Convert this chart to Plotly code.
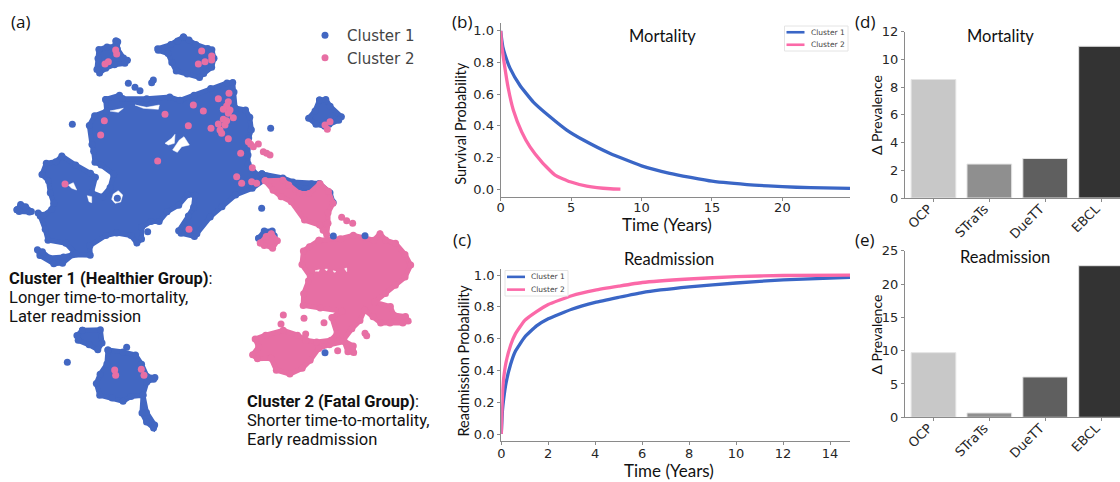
import math
import plotly.graph_objects as go

W, H = 1120, 482
BLUE, PINK = "#4267c2", "#e76fa4"
LBLUE, LPINK = "#3a66c6", "#fb69a8"

# ---------- (a) embedding: blob outlines and single points, embedding units ----------
blue_top_left = [(345,118),(358,122),(358,145),(375,170),(388,180),(378,195),(345,200),(320,210),(298,225),(285,210),(288,175),(292,145),(320,135),(340,135)]
blue_top_mid = [(550,105),(570,115),(590,128),(625,140),(640,145),(648,175),(640,205),(615,225),(600,238),(560,228),(525,218),(510,190),(500,165),(470,155),(468,143),(510,128),(530,118)]
blue_top_right = [(955,295),(980,293),(995,315),(1030,350),(1020,365),(990,378),(975,385),(945,378),(920,355),(940,330)]
blue_main = [(312,295),(360,280),(370,290),(440,290),(510,285),(540,295),(580,280),(630,260),(680,243),(702,243),(708,275),(710,320),(740,325),(755,350),(760,390),(752,415),(750,465),(750,490),(775,520),(805,525),(795,545),(760,570),(710,590),(670,625),(635,655),(595,705),(585,715),(540,705),(530,693),(560,645),(575,620),(580,590),(565,590),(540,620),(505,640),(480,670),(455,670),(430,685),(430,720),(410,735),(390,712),(350,705),(320,712),(275,740),(275,770),(220,770),(190,795),(160,797),(115,770),(108,745),(130,750),(150,768),(190,765),(222,760),(195,735),(140,725),(130,690),(115,650),(110,635),(130,640),(150,625),(155,610),(145,580),(140,545),(120,525),(135,485),(165,480),(185,462),(230,490),(275,515),(292,530),(280,575),(305,585),(325,560),(335,525),(300,500),(280,490),(275,455),(270,435),(262,375),(280,343),(315,330)]
blue_streak = [(45,630),(60,608),(80,615),(100,635),(90,642),(55,640)]
blue_low_a = [(245,985),(305,985),(312,1030),(295,1055),(265,1040),(230,1025),(225,1005)]
blue_low_b = [(320,1045),(370,1050),(410,1060),(430,1090),(445,1125),(470,1130),(465,1142),(445,1150),(435,1185),(445,1235),(470,1275),(462,1290),(435,1270),(420,1240),(425,1190),(395,1195),(370,1210),(335,1200),(295,1190),(283,1150),(295,1120),(315,1090)]
blue_band = [(780,520),(850,528),(880,540),(935,545),(960,545),(995,575),(1005,610),(985,620),(920,585)]
blue_island = [(770,715),(790,688),(820,688),(828,710),(780,725)]
blue_shapes = [blue_top_left, blue_top_mid, blue_top_right, blue_main, blue_streak, blue_low_a, blue_low_b, blue_band, blue_island]

gaps = [
    [(495,430),(515,415),(525,403),(523,430),(505,435)],
    [(518,450),(538,420),(552,410),(568,435),(545,440),(532,457)],
    [(205,555),(220,548),(230,570),(215,565)],
    [(262,587),(275,590),(275,608),(267,605)],
    [(335,598),(340,582),(355,572),(368,585),(362,606),(345,610)],
    [(330,333),(370,325),(355,337)],
    [(405,315),(440,322),(478,315),(475,328),(430,325)],
]

pink_streak = [(790,540),(850,535),(870,550),(900,575),(925,575),(960,545),(990,570),(1005,610),(990,640),(990,670),(982,710),(965,695),(955,680),(910,665),(870,610),(840,595),(815,575)]
pink_island = [(775,730),(795,705),(815,695),(838,722),(820,750),(790,742)]
pink_mass = [(955,715),(1020,710),(1060,700),(1120,715),(1140,695),(1160,715),(1190,725),(1220,760),(1238,795),(1220,835),(1190,860),(1160,885),(1130,905),(1175,915),(1185,940),(1220,945),(1230,965),(1210,975),(1170,975),(1140,975),(1115,955),(1095,935),(1085,965),(1060,990),(1035,1020),(1065,1035),(1065,1062),(1040,1060),(1030,1030),(990,1040),(960,1050),(935,1085),(910,1110),(870,1128),(825,1115),(810,1080),(770,1082),(752,1065),(770,1040),(760,1015),(795,1000),(850,985),(895,1000),(920,1015),(950,1020),(990,1015),(1005,1000),(990,950),(1020,935),(960,930),(905,920),(905,880),(920,840),(925,830),(900,795),(905,750),(925,735)]
pink_shapes = [pink_streak, pink_island, pink_mass]
pink_gaps = [[(945,813),(958,809),(956,814)],[(975,808),(982,807),(980,813)],[(1000,812),(1008,815),(1002,817)],[(1034,806),(1040,804),(1040,815)]]

blue_points = [(385,250),(405,262),(420,272),(460,240),(455,248),(217,373),(812,385),(785,625),(352,595),(202,1087),(380,1042),(443,695),(1000,708),(1095,707),(975,1058)]
pink_points = [(347,150),(350,162),(325,185),(315,192),(605,153),(635,168),(635,180),(615,185),(595,192),(687,280),(655,296),(580,315),(610,333),(685,305),(680,318),(670,328),(690,330),(685,340),(495,343),(700,353),(313,362),(565,377),(670,358),(655,372),(675,375),(680,362),(633,385),(660,390),(665,400),(302,405),(685,416),(745,425),(752,433),(775,432),(760,440),(790,455),(800,460),(810,465),(722,460),(473,483),(757,503),(710,530),(725,550),(755,545),(770,550),(195,552),(567,688),(990,365),(975,375),(982,388),(344,1110),(347,1126),(424,1108),(432,1126),(850,945),(843,972),(912,955),(972,968),(917,1002),(1095,1000),(1100,1007),(1013,1052),(1025,652),(1040,662),(1058,670)]

# ---------- (b) survival ----------
surv_t1 = [0,0.05,0.15,0.306,0.66,1.37,2.32,3.5,4.69,5.87,7.77,10,12,15,18,20,22,24.8]
surv_c1 = [1.0,0.96,0.9,0.85,0.765,0.655,0.55,0.457,0.373,0.31,0.225,0.147,0.1,0.05,0.025,0.015,0.009,0.005]
surv_t2 = [0,0.07,0.235,0.54,0.9,1.49,2.08,2.91,3.86,4.93,6.11,7.77,8.5]
surv_c2 = [1.0,0.91,0.804,0.636,0.499,0.362,0.267,0.172,0.088,0.046,0.019,0.002,0]

# ---------- (c) readmission ----------
read_t = [0,0.05,0.1,0.2,0.4,0.6,1,1.5,2,3,4,5,6,8,10,12,14.85]
read_c1 = [0,0.15,0.22,0.32,0.44,0.52,0.61,0.68,0.725,0.785,0.828,0.86,0.89,0.925,0.95,0.97,0.985]
read_c2 = [0,0.25,0.35,0.45,0.56,0.63,0.715,0.77,0.815,0.87,0.905,0.93,0.953,0.975,0.99,0.997,1.0]

# ---------- (d), (e) bars ----------
methods = ["OCP","STraTs","DueTT","EBCL"]
prev_mortality = [8.55,2.45,2.85,10.95]
prev_readmission = [9.7,0.65,6.05,22.75]
bar_colors = ["#c8c8c8","#8f8f8f","#5f5f5f","#333333"]

def inset(shape, d):
    """Pull an outline inwards so that the rounded stroke lands on the outline that was read."""
    n = len(shape)
    area = sum(shape[i][0]*shape[(i+1)%n][1] - shape[(i+1)%n][0]*shape[i][1] for i in range(n))
    sign = 1 if area > 0 else -1
    out = []
    for i in range(n):
        (x0,y0),(x1,y1),(x2,y2) = shape[i-1], shape[i], shape[(i+1)%n]
        l1 = math.hypot(x1-x0,y1-y0) or 1; l2 = math.hypot(x2-x1,y2-y1) or 1
        nx = -(y1-y0)/l1 - (y2-y1)/l2; ny = (x1-x0)/l1 + (x2-x1)/l2
        m = math.hypot(nx,ny) or 1
        out.append((x1 + sign*d*nx/m, y1 + sign*d*ny/m))
    return out

def xs(shapes):
    out = []
    for s in shapes:
        out += [p[0] for p in s] + [s[0][0], None]
    return out
def ys(shapes):
    out = []
    for s in shapes:
        out += [p[1] for p in s] + [s[0][1], None]
    return out

fig = go.Figure()
def blob(shapes, color, size=7, line=5):
    shapes = [inset(s, 6) for s in shapes]
    fig.add_trace(go.Scatter(x=xs(shapes), y=ys(shapes), mode="lines+markers", fill="toself", fillcolor=color,
        line=dict(color=color, width=line), marker=dict(color=color, size=size), showlegend=False, hoverinfo="skip",
        connectgaps=False, xaxis="x", yaxis="y"))
def hole(shapes):
    fig.add_trace(go.Scatter(x=xs(shapes), y=ys(shapes), mode="lines", fill="toself", fillcolor="white",
        line=dict(color="white", width=0.5), showlegend=False, hoverinfo="skip", xaxis="x", yaxis="y"))

blob(blue_shapes, BLUE)
hole(gaps)
blob(pink_shapes, PINK)
hole(pink_gaps)
fig.add_trace(go.Scatter(x=[p[0] for p in blue_points], y=[p[1] for p in blue_points], mode="markers", name="Cluster 1",
    marker=dict(color=BLUE, size=7), xaxis="x", yaxis="y", legend="legend"))
fig.add_trace(go.Scatter(x=[p[0] for p in pink_points], y=[p[1] for p in pink_points], mode="markers", name="Cluster 2",
    marker=dict(color=PINK, size=7), xaxis="x", yaxis="y", legend="legend"))

def curve(x, y, name, color, ax):
    fig.add_trace(go.Scatter(x=x, y=y, mode="lines", name=name, line=dict(color=color, width=3.3, shape="spline", smoothing=0.4),
        xaxis=ax[0], yaxis=ax[1], showlegend=False))
curve(surv_t1, surv_c1, "Cluster 1", LBLUE, ("x2","y2"))
curve(surv_t2, surv_c2, "Cluster 2", LPINK, ("x2","y2"))
curve(read_t, read_c1, "Cluster 1", LBLUE, ("x3","y3"))
curve(read_t, read_c2, "Cluster 2", LPINK, ("x3","y3"))

fig.add_trace(go.Bar(x=methods, y=prev_mortality, marker=dict(color=bar_colors, line=dict(color="#e4e4e4", width=1)), width=0.8, showlegend=False, xaxis="x4", yaxis="y4"))
fig.add_trace(go.Bar(x=methods, y=prev_readmission, marker=dict(color=bar_colors, line=dict(color="#e4e4e4", width=1)), width=0.8, showlegend=False, xaxis="x5", yaxis="y5"))

def dx(a, b): return [a / W, b / W]
def dy(top, bottom): return [1 - bottom / H, 1 - top / H]

AXC = "#8a8a8a"
TICK = dict(family="DejaVu Sans", size=13, color="#262626")
def axis(domain, rng, anchor, **kw):
    d = dict(domain=domain, range=rng, anchor=anchor, showgrid=False, zeroline=False, showline=True, linecolor=AXC, linewidth=1.3,
             ticks="outside", ticklen=3, tickcolor=AXC, tickfont=TICK, automargin=False)
    d.update(kw)
    return d

fig.update_layout(
    width=W, height=H, autosize=False, margin=dict(l=0, r=0, t=0, b=0), paper_bgcolor="white", plot_bgcolor="rgba(0,0,0,0)",
    font=dict(family="DejaVu Sans"), bargap=0.2,
    xaxis=dict(domain=dx(0, 440), range=[0, 1320], visible=False),
    yaxis=dict(domain=dy(0, 482), range=[1446, 0], visible=False),
    xaxis2=axis(dx(500.7, 850), [0, 24.8], "y2", tickvals=[0,5,10,15,20], ticklabelstandoff=-5),
    yaxis2=axis(dy(23, 197), [-0.05, 1.05], "x2", tickvals=[0,0.2,0.4,0.6,0.8,1.0], tickformat=".1f"),
    xaxis3=axis(dx(501.3, 850), [0, 14.85], "y3", tickvals=[0,2,4,6,8,10,12,14], ticklabelstandoff=-3),
    yaxis3=axis(dy(269, 441), [-0.044, 1.038], "x3", tickvals=[0,0.2,0.4,0.6,0.8,1.0], tickformat=".1f"),
    xaxis4=axis(dx(905, 1120), [-0.51, 3.34], "y4", type="category", categoryorder="array", categoryarray=methods, tickangle=-45, ticklabelstandoff=-6, ticklabelshift=-5),
    yaxis4=axis(dy(31.7, 198), [0, 12], "x4", tickvals=[0,2,4,6,8,10,12]),
    xaxis5=axis(dx(905, 1120), [-0.51, 3.34], "y5", type="category", categoryorder="array", categoryarray=methods, tickangle=-45, ticklabelstandoff=-6, ticklabelshift=-5),
    yaxis5=axis(dy(250.7, 417.3), [0, 25], "x5", tickvals=[0,5,10,15,20,25]),
    legend=dict(x=303/W, y=1-19/H, xanchor="left", yanchor="top", bgcolor="rgba(0,0,0,0)", font=dict(family="DejaVu Sans", size=15, color="#444"), itemsizing="trace", itemwidth=34),
)

def note(text, x, y, family, size, anchor="left", color="#111", angle=0):
    fig.add_annotation(text=text, x=x / W, y=1 - y / H, xref="paper", yref="paper", showarrow=False, xanchor=anchor, yanchor="middle",
                       align="left", font=dict(family=family, size=size, color=color), borderpad=0, textangle=angle)

def line_key(x0, y0, x1, y1, items):
    fig.add_shape(type="rect", xref="paper", yref="paper", x0=x0/W, x1=x1/W, y0=1-y0/H, y1=1-y1/H,
                  line=dict(color="#e4e4e4", width=1), fillcolor="white", layer="above")
    for i, (name, color) in enumerate(items):
        yy = y0 + (y1 - y0) * (i + 0.5) / len(items)
        fig.add_shape(type="line", xref="paper", yref="paper", x0=(x0+2)/W, x1=(x0+20)/W, y0=1-yy/H, y1=1-yy/H,
                      line=dict(color=color, width=2.6), layer="above")
        note(name, x0 + 25, yy, "DejaVu Sans", 7.5, color="#444")
key_items = [("Cluster 1", LBLUE), ("Cluster 2", LPINK)]
line_key(784.5, 26, 848, 51, key_items)
line_key(505, 270.5, 568, 296, key_items)

for t, x, y in [("(a)",10,22),("(b)",451,22),("(c)",452,239),("(d)",854,22),("(e)",854,239)]:
    note(t, x, y, "Open Sans", 17)
for t, x, y in [("Mortality",662,36),("Readmission",669,259),("Mortality",1000,36),("Readmission",1005,257)]:
    note(t, x, y, "Lato", 16.5, "center")
for t, x, y, s, a in [("Time (Years)",667,224,17,0),("Time (Years)",669,470.5,17,0),("Survival Probability",461,123.7,14.5,-90),
                      ("Readmission Probability",463,360.5,14.5,-90),("Δ Prevalence",876,115,14,-90),("Δ Prevalence",876,334.5,14,-90)]:
    note(t, x, y, "Lato", s, "center", angle=a)
note("<b>Cluster 1 (Healthier Group)</b>:", 8, 278, "Roboto", 16.5)
note("Longer time-to-mortality,", 8, 297, "Roboto", 16.5)
note("Later readmission", 8, 316, "Roboto", 16.5)
note("<b>Cluster 2 (Fatal Group)</b>:", 246, 401, "Roboto", 16.5)
note("Shorter time-to-mortality,", 246, 420, "Roboto", 16.5)
note("Early readmission", 246, 439, "Roboto", 16.5)

fig.write_html("out.html", config=dict(displayModeBar=False), post_script="document.body.style.margin='0';document.body.style.overflow='hidden';")
